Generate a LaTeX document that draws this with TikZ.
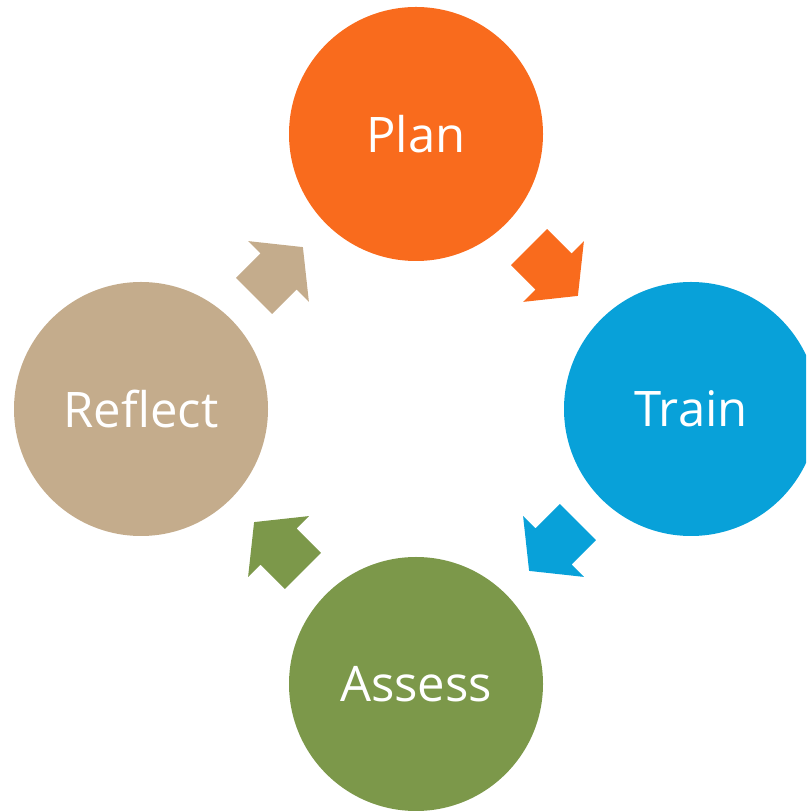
\documentclass[tikz,border=0pt]{standalone}
\usepackage{fontspec}
\setmainfont{Open Sans}
\usetikzlibrary{calc}

\definecolor{planorange}{HTML}{F96B1D}
\definecolor{trainblue}{HTML}{08A1D9}
\definecolor{assessgreen}{HTML}{7C984A}
\definecolor{reflecttan}{HTML}{C4AC8C}

% block arrow half way between two stages
\newcommand{\cyclearrow}[4]{%
    \fill[#4, shift={($(#1)!0.5!(#2)$)}, rotate=#3] (-34.5, -25.5) -- (0, -25.5) -- (0, -43) -- (34.5, 0) -- (0, 43) -- (0, 25.5) -- (-34.5, 25.5) -- cycle;}

\begin{document}
\begin{tikzpicture}[x=1pt, y=1pt,
    stage/.style={circle, minimum size=254pt, inner sep=0pt, text=white, font=\fontsize{49}{58}\selectfont}]
    \useasboundingbox (0, 0) rectangle (806, 811);
    \clip (0, 0) rectangle (806, 811);

    \node[stage, fill=planorange] (plan) at (416, 677) {Plan};
    \node[stage, fill=trainblue] (train) at (691, 402) {Train};
    \node[stage, fill=assessgreen] (assess) at (416, 127) {Assess};
    \node[stage, fill=reflecttan] (reflect) at (141, 402) {Reflect};

    \cyclearrow{plan}{train}{-45}{planorange}
    \cyclearrow{train}{assess}{-135}{trainblue}
    \cyclearrow{assess}{reflect}{135}{assessgreen}
    \cyclearrow{reflect}{plan}{45}{reflecttan}

\end{tikzpicture}
\end{document}
